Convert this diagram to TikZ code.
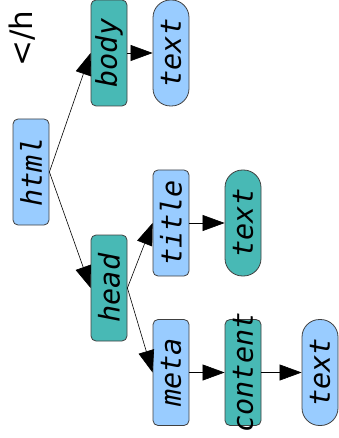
\documentclass[tikz,border=0pt]{standalone}
\usepackage{fontspec}
\newfontfamily\monofont{DejaVu Sans Mono}
\newfontfamily\labelfont{DejaVu Sans}
\usetikzlibrary{arrows.meta}
\definecolor{lblue}{RGB}{153,204,255}
\definecolor{teal2}{RGB}{72,185,181}
\tikzset{
  base/.style={draw=black!75, line width=0.8pt, rotate=90, minimum width=106pt,
    minimum height=36pt, inner sep=0pt,
    font=\monofont\itshape\fontsize{28.5}{32}\selectfont},
  boxb/.style={base, rounded corners=5pt, fill=lblue},
  boxt/.style={base, rounded corners=5pt, fill=teal2},
  pillb/.style={base, rounded corners=17.5pt, fill=lblue},
  pillt/.style={base, rounded corners=17.5pt, fill=teal2},
  arr/.style={draw=black, line width=0.6pt, -{Triangle[length=22pt,width=16pt]}},
}
\begin{document}
\begin{tikzpicture}[x=1pt,y=-1pt]
\useasboundingbox (0,0) rectangle (338,438);
\node[rotate=90, anchor=base west, inner sep=0pt, font=\labelfont\fontsize{31}{36}\selectfont] (closing) at (32,67) {</h};
\node[boxb] (html) at (31,172) {\makebox[0pt][c]{html}};
\node[boxt] (body) at (109,53) {\makebox[0pt][c]{body}};
\node[pillb] (bodytext) at (171,53) {\makebox[0pt][c]{text}};
\node[boxt] (head) at (109,288) {\makebox[0pt][c]{head}};
\node[boxb] (title) at (171,223) {\makebox[0pt][c]{title}};
\node[pillt] (titletext) at (243,223) {\makebox[0pt][c]{text}};
\node[boxb] (meta) at (171,372.5) {\makebox[0pt][c]{meta}};
\node[boxt] (content) at (243,372.5) {\makebox[0pt][c]{content}};
\node[pillb] (metatext) at (320,372.5) {\makebox[0pt][c]{text}};
\draw[arr] (html.south) -- (body.north);
\draw[arr] (html.south) -- (head.north);
\draw[arr] (body.south) -- (bodytext.north);
\draw[arr] (head.south) -- (title.north);
\draw[arr] (head.south) -- (meta.north);
\draw[arr] (title.south) -- (titletext.north);
\draw[arr] (meta.south) -- (content.north);
\draw[arr] (content.south) -- (metatext.north);
\end{tikzpicture}
\end{document}
